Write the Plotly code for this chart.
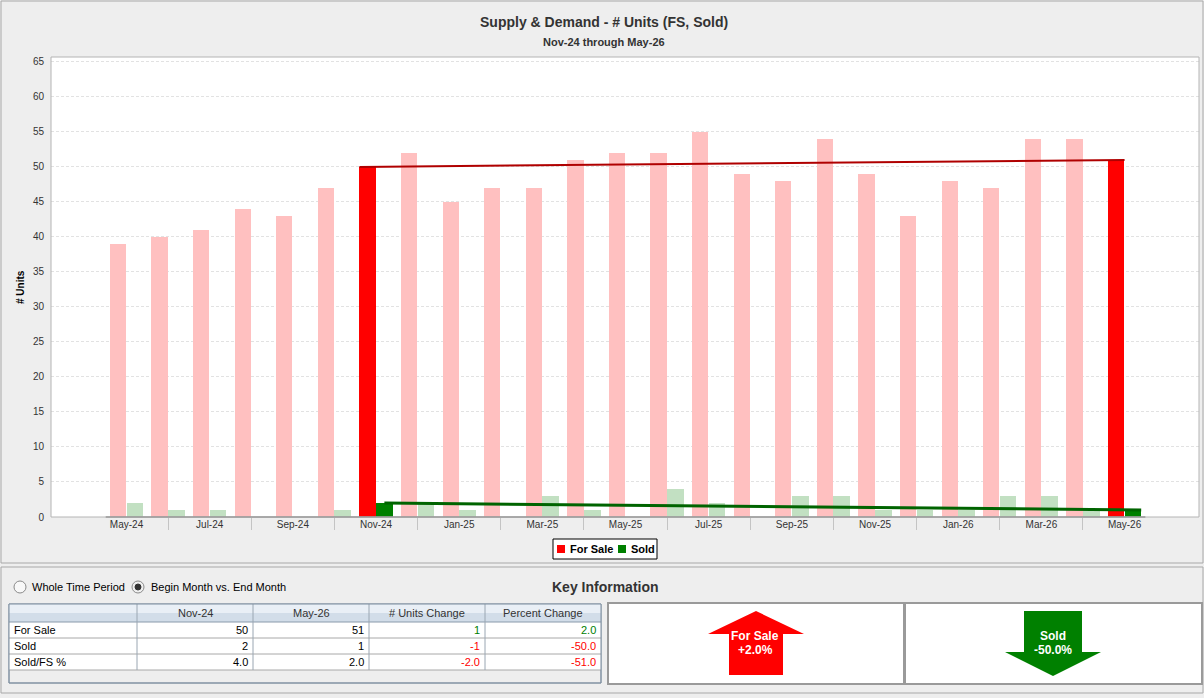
import plotly.graph_objects as go

# ---------------- data ----------------
months = ["May-24", "Jun-24", "Jul-24", "Aug-24", "Sep-24", "Oct-24", "Nov-24", "Dec-24",
          "Jan-25", "Feb-25", "Mar-25", "Apr-25", "May-25", "Jun-25", "Jul-25", "Aug-25",
          "Sep-25", "Oct-25", "Nov-25", "Dec-25", "Jan-26", "Feb-26", "Mar-26", "Apr-26", "May-26"]
for_sale = [39, 40, 41, 44, 43, 47, 50, 52, 45, 47, 47, 51, 52, 52, 55, 49, 48, 54, 49, 43, 48, 47, 54, 54, 51]
sold = [2, 1, 1, 0, 0, 1, 2, 2, 1, 0, 3, 1, 0, 4, 2, 0, 3, 3, 1, 1, 1, 3, 3, 1, 1]
begin_month = "Nov-24"
end_month = "May-26"
y_ticks = list(range(0, 70, 5))

FS_LIGHT, FS_DARK = "#ffc0c0", "#ff0000"
SD_LIGHT, SD_DARK = "#c2e0c2", "#008000"
FONT = "Liberation Sans, Arial, sans-serif"

b = months.index(begin_month)
e = months.index(end_month)
xs = list(range(len(months)))

fs_colors = [FS_DARK if i in (b, e) else FS_LIGHT for i in xs]
sd_colors = [SD_DARK if i in (b, e) else SD_LIGHT for i in xs]

# --------------- pixel helpers ---------------
W, H = 1204, 698
PL, PR, PT, PB = 51, 1199, 57, 517


def X(px):
    return (px - PL) / (PR - PL)


def Y(py):
    return (PB - py) / (PB - PT)


shapes = []
annotations = []


def rect(x0, y0, x1, y1, line="#999999", fill=None, width=1, layer="above"):
    shapes.append(dict(type="rect", xref="paper", yref="paper",
                       x0=X(x0), y0=Y(y0), x1=X(x1), y1=Y(y1),
                       line=dict(color=line, width=width) if width else dict(width=0),
                       fillcolor=fill if fill else "rgba(0,0,0,0)", layer=layer))


def hline(x0, x1, y, color="#999999", width=1):
    shapes.append(dict(type="line", xref="paper", yref="paper",
                       x0=X(x0), x1=X(x1), y0=Y(y), y1=Y(y),
                       line=dict(color=color, width=width)))


def vline(x, y0, y1, color="#999999", width=1):
    shapes.append(dict(type="line", xref="paper", yref="paper",
                       x0=X(x), x1=X(x), y0=Y(y0), y1=Y(y1),
                       line=dict(color=color, width=width)))


def text(px, py, s, size=11, color="#000000", bold=False, anchor="center", angle=0):
    if bold:
        s = "<b>" + s + "</b>"
    annotations.append(dict(xref="paper", yref="paper", x=X(px), y=Y(py), text=s,
                            showarrow=False, xanchor=anchor, yanchor="middle",
                            textangle=angle, borderpad=0,
                            font=dict(family=FONT, size=size, color=color)))


def circle(cx, cy, r, line="#888888", fill="#ffffff", width=1):
    shapes.append(dict(type="circle", xref="paper", yref="paper",
                       x0=X(cx - r), x1=X(cx + r), y0=Y(cy + r), y1=Y(cy - r),
                       line=dict(color=line, width=width), fillcolor=fill))


def poly(points, fill):
    path = "M " + " L ".join(f"{X(px)},{Y(py)}" for px, py in points) + " Z"
    shapes.append(dict(type="path", xref="paper", yref="paper", path=path,
                       fillcolor=fill, line=dict(width=0)))


# --------------- figure ---------------
fig = go.Figure()

fig.add_trace(go.Bar(x=xs, y=for_sale, name="For Sale", marker=dict(color=fs_colors, line=dict(width=0)),
                     offset=-0.4, width=0.39, showlegend=False))
fig.add_trace(go.Bar(x=xs, y=sold, name="Sold", marker=dict(color=sd_colors, line=dict(width=0)),
                     offset=0.0, width=0.4, showlegend=False))

# trend lines between begin and end month
fig.add_trace(go.Scatter(x=[b - 0.4, e], y=[for_sale[b], for_sale[e]], mode="lines",
                         line=dict(color="#b00000", width=2), showlegend=False, hoverinfo="skip"))
fig.add_trace(go.Scatter(x=[b + 0.2, e + 0.4], y=[sold[b], sold[e]], mode="lines",
                         line=dict(color="#006400", width=3), showlegend=False, hoverinfo="skip"))

# ---- panels ----
rect(1, 1, 1203, 563, line="#a8a8a8", layer="below")
rect(1, 567, 1203, 693, line="#a8a8a8", layer="below")

# plot frame and axis line
rect(PL, PT, PR, PB, line="#b4b4b4")
shapes.append(dict(type="line", xref="x", yref="paper", x0=-0.5, x1=len(months) - 0.5, y0=0, y1=0,
                   line=dict(color="#999999", width=1.5)))

# titles
text(604, 22, "Supply &amp; Demand - # Units (FS, Sold)", size=14, color="#333333", bold=True)
text(604, 42, f"{begin_month} through {end_month}", size=11, color="#333333", bold=True)
text(20, 287, "# Units", size=10, color="#000000", bold=True, angle=-90)

# legend (manual)
rect(553, 539, 657, 559, line="#000000", fill="#ffffff", width=1)
rect(557, 545, 565, 553, line=FS_DARK, fill=FS_DARK, width=0)
text(569, 549, "For Sale", size=11, bold=True, anchor="left")
rect(618, 545, 626, 553, line=SD_DARK, fill=SD_DARK, width=0)
text(630, 549, "Sold", size=11, bold=True, anchor="left")

# ---- bottom panel ----
circle(20, 587, 6, line="#8a8a8a", fill="#f8f8f8")
text(31, 587, "Whole Time Period", size=11, anchor="left")
circle(138, 587, 6, line="#8a8a8a", fill="#f0f0f0")
circle(138, 587, 3, line="#333333", fill="#333333")
text(150, 587, "Begin Month vs. End Month", size=11, anchor="left")
text(605, 587, "Key Information", size=14, color="#333333", bold=True)

# table
cols = [9, 137, 253, 369, 485, 601]
T_TOP, H_BOT = 604, 622
row_bot = [638, 654, 670]
T_BOT = 683
rect(cols[0], T_TOP, cols[-1], T_BOT, line="#8a9aab", fill="#eeeeee", width=1, layer="below")
rect(cols[0], T_TOP, cols[-1], 613, width=0, fill="#e9eff6", layer="below")
rect(cols[0], 613, cols[-1], H_BOT, width=0, fill="#d2dde9", layer="below")
rect(cols[0], H_BOT, cols[-1], row_bot[-1], width=0, fill="#ffffff", layer="below")
hline(cols[0], cols[-1], H_BOT, color="#8a9aab")
for yb in row_bot:
    hline(cols[0], cols[-1], yb, color="#a8a8a8")
for cx in cols[1:-1]:
    vline(cx, T_TOP, row_bot[-1], color="#9aa6b2")
rect(cols[0], T_TOP, cols[-1], T_BOT, line="#7d8d9e", width=1)

headers = ["", begin_month, end_month, "# Units Change", "Percent Change"]
for i, h in enumerate(headers):
    if h:
        text((cols[i] + cols[i + 1]) / 2, 613, h, size=11, color="#333333")

fs_b, fs_e = for_sale[b], for_sale[e]
sd_b, sd_e = sold[b], sold[e]
r_b = sd_b / fs_b * 100
r_e = sd_e / fs_e * 100
fs_pct = (fs_e - fs_b) / fs_b * 100
sd_pct = (sd_e - sd_b) / sd_b * 100
r_pct = (r_e - r_b) / r_b * 100

rows = [
    ("For Sale", f"{fs_b}", f"{fs_e}", fs_e - fs_b, f"{fs_e - fs_b}", fs_pct, f"{fs_pct:.1f}"),
    ("Sold", f"{sd_b}", f"{sd_e}", sd_e - sd_b, f"{sd_e - sd_b}", sd_pct, f"{sd_pct:.1f}"),
    ("Sold/FS %", f"{r_b:.1f}", f"{r_e:.1f}", r_e - r_b, f"{round(r_e, 1) - round(r_b, 1):.1f}", r_pct, f"{r_pct:.1f}"),
]
row_y = [630, 646, 662]
for (lab, v1, v2, ch, chs, pc, pcs), ry in zip(rows, row_y):
    text(cols[0] + 4, ry, lab, size=11, anchor="left")
    text(cols[2] - 4, ry, v1, size=11, anchor="right")
    text(cols[3] - 4, ry, v2, size=11, anchor="right")
    text(cols[4] - 4, ry, chs, size=11, anchor="right", color="#008000" if ch > 0 else "#ff0000")
    text(cols[5] - 4, ry, pcs, size=11, anchor="right", color="#008000" if pc > 0 else "#ff0000")

# arrow panels
rect(608, 603, 904, 684, line="#9a9a9a", fill="#ffffff", width=2, layer="below")
rect(905, 603, 1202, 684, line="#9a9a9a", fill="#ffffff", width=2, layer="below")

poly([(756, 611), (804, 634), (783, 634), (783, 675), (729, 675), (729, 634), (708, 634)], FS_DARK)
text(755, 636, "For Sale", size=12, color="#ffffff", bold=True)
text(755, 650, f"{fs_pct:+.1f}%", size=12, color="#ffffff", bold=True)

poly([(1024, 611), (1082, 611), (1082, 652), (1101, 652), (1053, 676), (1005, 652), (1024, 652)], SD_DARK)
text(1053, 636, "Sold", size=12, color="#ffffff", bold=True)
text(1053, 650, f"{sd_pct:+.1f}%", size=12, color="#ffffff", bold=True)

fig.update_layout(
    width=W, height=H,
    margin=dict(l=PL, r=W - PR, t=PT, b=H - PB, pad=0),
    paper_bgcolor="#eeeeee", plot_bgcolor="#ffffff",
    barmode="overlay", bargap=0,
    font=dict(family=FONT, size=10, color="#333333"),
    showlegend=False,
    shapes=shapes, annotations=annotations,
    xaxis=dict(range=[-1.816, 25.79], tickmode="array", tickvals=xs[::2], ticktext=months[::2],
               showgrid=False, zeroline=False, showline=False, ticks="",
               tickfont=dict(size=10, color="#333333"),
               minor=dict(ticks="outside", ticklen=12, tickcolor="#c4c4c4", tickwidth=1,
                          tickmode="array", tickvals=xs[1::2], showgrid=False)),
    yaxis=dict(range=[0, 65.7], tickmode="array", tickvals=y_ticks,
               showgrid=True, gridcolor="#e2e2e2", griddash="3px,2px", gridwidth=1,
               zeroline=False, showline=False, ticks="", ticklabelstandoff=6,
               tickfont=dict(size=10, color="#333333")),
)

fig.write_html("out.html")
